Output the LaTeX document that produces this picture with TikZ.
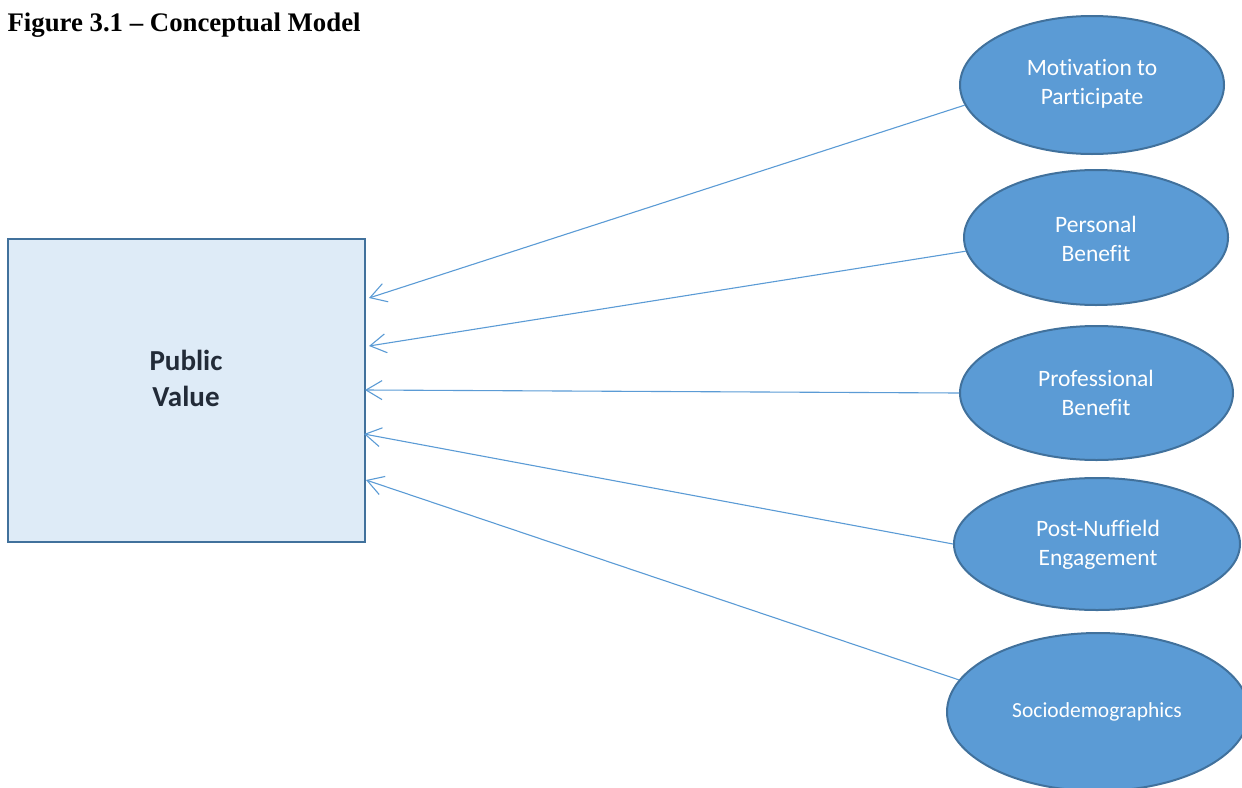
\documentclass[tikz,border=0pt]{standalone}
\usepackage{fontspec}
\setmainfont[Ligatures=NoCommon]{Carlito}
\newfontfamily\titlefont{Liberation Serif}
\usetikzlibrary{arrows.meta,shapes.geometric}
\definecolor{efill}{HTML}{5B9BD5}
\definecolor{edraw}{HTML}{41719C}
\definecolor{rfill}{HTML}{DEEBF7}
\definecolor{ptext}{HTML}{222B38}
\tikzset{
  factor/.style={ellipse, draw=edraw, fill=efill, line width=2pt, inner sep=0pt},
  ftext/.style={text=white, align=center, font=\fontsize{23.5}{29}\selectfont},
  arr/.style={draw=efill, line width=1.1pt, -{Straight Barb[length=16pt,width=19pt,line width=1.1pt]}},
}
\begin{document}
\begin{tikzpicture}[x=1pt,y=-1pt]
\useasboundingbox (0,0) rectangle (1242,787);
\clip (0,0) rectangle (1242,787);
\node[anchor=base west, font=\titlefont\bfseries\fontsize{26.8}{30}\selectfont] (title) at (4,31) {Figure 3.1 – Conceptual Model};
\node[draw=edraw, fill=rfill, line width=2.3pt, minimum width=357pt, minimum height=303pt, inner sep=0pt] (pv) at (186.5,390.5) {};
\node[align=center, text=ptext, font=\bfseries\fontsize{29}{36}\selectfont] (pvt) at (186,378) {Public\\Value};
\node[factor, minimum width=264pt, minimum height=138pt] (e1) at (1092,85) {};
\node[factor, minimum width=264pt, minimum height=135pt] (e2) at (1096,237.5) {};
\node[factor, minimum width=273pt, minimum height=134pt] (e3) at (1096.5,393) {};
\node[factor, minimum width=286pt, minimum height=132pt] (e4) at (1097,544) {};
\node[factor, minimum width=302pt, minimum height=158pt] (e5) at (1098,712) {};
\node[ftext] (t1) at (1092,83.5) {Motivation to\\Participate};
\node[ftext] (t2) at (1096,239) {Personal\\Benefit};
\node[ftext] (t3) at (1096,393) {Professional\\Benefit};
\node[ftext] (t4) at (1098,544.5) {Post-Nuffield\\Engagement};
\node[ftext, font=\fontsize{21.5}{26}\selectfont] (t5) at (1097,712) {Sociodemographics};
\coordinate (p1) at (369,298);
\coordinate (p2) at (369,346);
\coordinate (p3) at (365,390);
\coordinate (p4) at (364,434);
\coordinate (p5) at (366,480);
\draw[arr] (e1.189.6) -- (p1);
\draw[arr] (e2.186) -- (p2);
\draw[arr] (e3.180) -- (p3);
\draw[arr] (e4.180) -- (p4);
\draw[arr] (e5.167.9) -- (p5);
\end{tikzpicture}
\end{document}
